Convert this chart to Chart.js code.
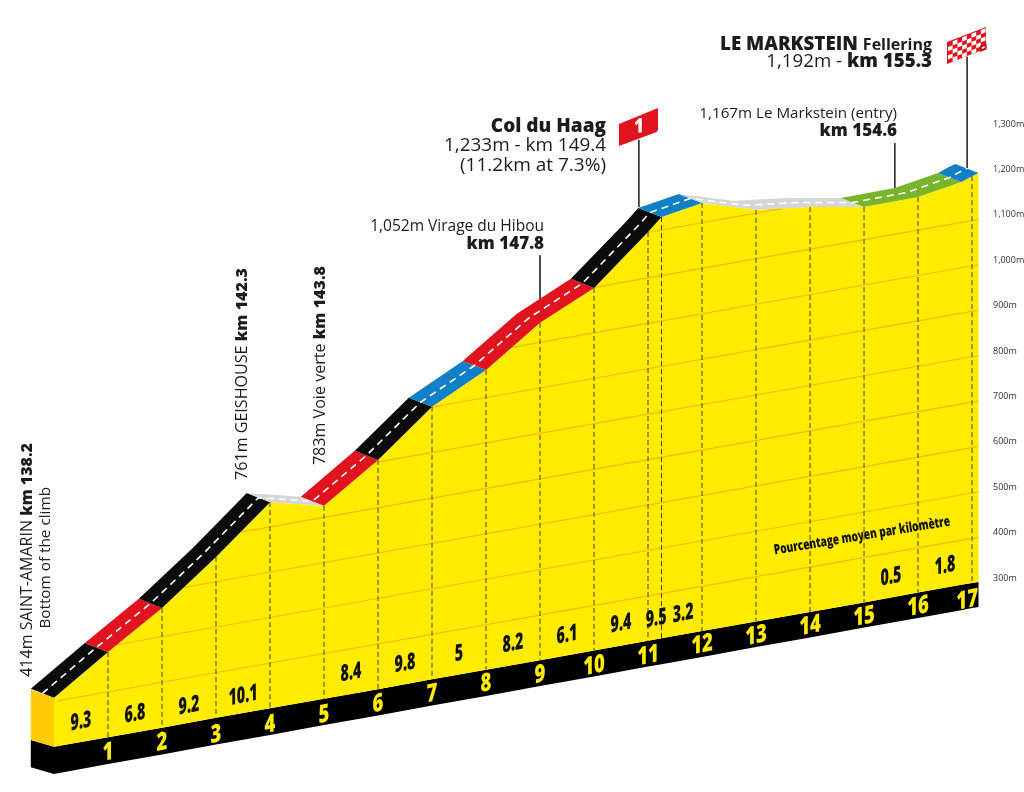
<!DOCTYPE html>
<html>
<head>
<meta charset="utf-8">
<title>Col du Haag - Le Markstein</title>
<script src="https://cdn.jsdelivr.net/npm/chart.js@4/dist/chart.umd.min.js"></script>
<style>
    html, body { margin: 0; padding: 0; background: #fff; overflow: hidden; }
    canvas { display: block; }
</style>
</head>
<body>
<canvas id="profileChart" width="1024" height="792"></canvas>
<script>
const kmMarks = [0, 1, 2, 3, 4, 5, 6, 7, 8, 9, 10, 11, 11.25, 12, 13, 14, 15, 16, 16.8, 17, 17.12];
const roadHeight = [36, 137, 234, 346, 467, 459, 560, 677, 758, 862, 939, 1062, 1095, 1126, 1111, 1117, 1117, 1139, 1172, 1185, 1192];
const floorTop = [-72, -51, -30, -8, 13, 34, 55, 77, 98, 119, 140, 162, 167, 183, 204, 225, 246, 268, 285, 289, 291];
const floorBottom = [-132, -110, -89, -67, -46, -24, -3, 19, 40, 62, 83, 105, 110, 126, 148, 169, 191, 212, 229, 234, 236];

const sectionStart = [0, 1, 2, 4, 5, 6, 7, 8, 10, 11.25, 12, 15, 16.8];
const sectionEnd = [1, 2, 4, 5, 6, 7, 8, 10, 11.25, 12, 15, 16.8, 17.12];
const sectionGrade = ['steep', 'hard', 'steep', 'flat', 'hard', 'steep', 'medium', 'hard', 'steep', 'medium', 'flat', 'easy', 'medium'];

const altitudeTicks = [300, 400, 500, 600, 700, 800, 900, 1000, 1100, 1200, 1300];
const gridStartKm = [0.05, 1.16, 2.4, 3.46, 5.94, 6.99, 8.48, 10.01, 10.99];
const gridEndKm = [17.12, 17.12, 17.12, 17.12, 17.12, 17.12, 17.12, 17.12, 13.49];
const gridStartHeight = [29, 153, 279, 401, 554, 676, 808, 940, 1061];
const gridEndHeight = [390, 490, 590, 690, 790, 890, 990, 1090, 1114];

const gradeKm = [0.5, 1.5, 2.5, 3.5, 5.5, 6.5, 7.5, 8.5, 9.5, 10.5, 11.15, 11.65, 15.5, 16.5];
const gradeHeight = [-17, 0, 18, 40, 91, 111, 133, 155, 174, 199, 210, 221, 302, 326];
const gradeLabels = ['9.3', '6.8', '9.2', '10.1', '8.4', '9.8', '5', '8.2', '6.1', '9.4', '9.5', '3.2', '0.5', '1.8'];

const kmLabelKm = [1, 2, 3, 4, 5, 6, 7, 8, 9, 10, 11, 12, 13, 14, 15, 16, 16.91];
const kmLabelHeight = [-85, -63, -46, -24, -2, 22, 44, 67, 86, 106, 128, 152, 172, 194, 214, 236, 250];
const kmLabels = ['1', '2', '3', '4', '5', '6', '7', '8', '9', '10', '11', '12', '13', '14', '15', '16', '17'];

const leaderKm = [9, 10.83, 15.57, 16.91];
const leaderTop = [1011, 1265, 1258, 1448];
const leaderBottom = [912, 1117, 1159, 1203];

const sideKm = [-0.43, 0];
const sideTop = [54, 36];
const sideMiddle = [-57, -72];
const sideBottom = [-117, -132];

const gradeColors = {
    steep: '#0b0b0b',
    hard: '#e0131f',
    medium: '#1280c6',
    easy: '#79b52c',
    flat: '#d6d6d6'
};

const roadDepthKm = 0.43;
const roadDepthHeight = 20;

const textFont = '"Open Sans"';
const textColor = '#1c1c1c';

function pairs(xs, ys) {
    return xs.map((x, i) => ({x: x, y: ys[i]}));
}

function shape(points, color, extra) {
    return Object.assign({
        data: points,
        showLine: true,
        fill: 'shape',
        backgroundColor: color,
        borderColor: color,
        borderWidth: 0,
        pointRadius: 0,
        tension: 0
    }, extra);
}

function line(points, color, width, dash) {
    return {
        data: points,
        showLine: true,
        fill: false,
        borderColor: color,
        borderWidth: width,
        borderDash: dash || [],
        pointRadius: 0,
        tension: 0
    };
}

// listed bottom layer first, reversed at the end since chart.js paints the first dataset last
const layers = [];

layers.push(shape(pairs(sideKm, sideBottom).concat(pairs(sideKm, sideMiddle).reverse()), '#000'));
layers.push(shape(pairs(sideKm, sideMiddle).concat(pairs(sideKm, sideTop).reverse()), '#ffcb05'));
layers.push(shape(pairs(kmMarks, floorBottom).concat(pairs(kmMarks, floorTop).reverse()), '#000'));
layers.push(shape(pairs(kmMarks, floorTop).concat(pairs(kmMarks, roadHeight).reverse()), '#ffec00'));

gridStartKm.forEach((km, i) => {
    layers.push(line([{x: km, y: gridStartHeight[i]}, {x: gridEndKm[i], y: gridEndHeight[i]}], '#f2b90c', 1.2));
});

kmMarks.forEach((km, i) => {
    if (km === 0 || km === 16.8 || km === 17.12) {
        return;
    }
    layers.push(line([{x: km, y: roadHeight[i]}, {x: km, y: floorTop[i]}], '#4a4420', 1, [5, 3]));
});

leaderKm.forEach((km, i) => {
    layers.push(line([{x: km, y: leaderTop[i]}, {x: km, y: leaderBottom[i]}], '#333', 1));
});

sectionStart.forEach((start, i) => {
    const from = kmMarks.indexOf(start);
    const to = kmMarks.indexOf(sectionEnd[i]);
    const front = pairs(kmMarks, roadHeight).slice(from, to + 1);
    const back = front.map(p => ({x: p.x - roadDepthKm, y: p.y + roadDepthHeight})).reverse();
    layers.push(shape(front.concat(back), gradeColors[sectionGrade[i]]));
});

layers.push(line(kmMarks.map((km, i) => ({x: km - roadDepthKm / 2, y: roadHeight[i] + roadDepthHeight / 2})), '#fff', 1.6, [7, 5]));

// flags and all the text go on top of the datasets
const labelsPlugin = {
    id: 'labels',
    afterDatasetsDraw(chart) {
        const ctx = chart.ctx;
        const xs = chart.scales.x;
        const ys = chart.scales.y;

        function squeezed(text, km, height, size, scaleX, skew, color) {
            ctx.save();
            ctx.translate(xs.getPixelForValue(km), ys.getPixelForValue(height));
            ctx.transform(scaleX, skew, 0, 1, 0, 0);
            ctx.font = '800 ' + size + 'px ' + textFont;
            ctx.fillStyle = color;
            ctx.textAlign = 'center';
            ctx.textBaseline = 'middle';
            ctx.fillText(text, 0, 0);
            ctx.restore();
        }

        gradeLabels.forEach((t, i) => squeezed(t, gradeKm[i], gradeHeight[i], 23, 0.62, -0.12, '#111'));
        kmLabels.forEach((t, i) => squeezed(t, kmLabelKm[i], kmLabelHeight[i], 25, 0.74, -0.15, '#ffec00'));

        // runs of normal and bold text, right aligned on x
        function rich(runs, x, y, size) {
            ctx.textAlign = 'left';
            ctx.textBaseline = 'alphabetic';
            let w = 0;
            runs.forEach(r => {
                ctx.font = (r.w || 400) + ' ' + (r.s || size) + 'px ' + textFont;
                w += ctx.measureText(r.t).width;
            });
            let cx = x - w;
            ctx.fillStyle = textColor;
            runs.forEach(r => {
                ctx.font = (r.w || 400) + ' ' + (r.s || size) + 'px ' + textFont;
                ctx.fillText(r.t, cx, y);
                cx += ctx.measureText(r.t).width;
            });
        }

        function riser(runs, x, y, size) {
            ctx.save();
            ctx.translate(x, y);
            ctx.rotate(-Math.PI / 2);
            rich(runs, 0, 0, size);
            ctx.restore();
        }

        rich([{t: 'LE MARKSTEIN ', w: 800, s: 18.8}, {t: 'Fellering', w: 700, s: 16}], 932, 50, 18.8);
        rich([{t: '1,192m - '}, {t: 'km 155.3', w: 800}], 932, 67, 18.7);

        rich([{t: 'Col du Haag', w: 800}], 606, 132, 19);
        rich([{t: '1,233m - km 149.4'}], 606, 151, 18.9);
        rich([{t: '(11.2km at 7.3%)'}], 606, 171, 19);

        rich([{t: '1,052m Virage du Hibou'}], 544, 231, 15.5);
        rich([{t: 'km 147.8', w: 800}], 544, 249, 17);

        rich([{t: '1,167m Le Markstein (entry)'}], 897, 118, 15.2);
        rich([{t: 'km 154.6', w: 800}], 897, 136, 17);

        riser([{t: '761m GEISHOUSE '}, {t: 'km 142.3', w: 800}], 247, 268, 16.1);
        riser([{t: '783m Voie verte '}, {t: 'km 143.8', w: 800}], 325, 266, 16.1);
        riser([{t: '414m SAINT-AMARIN '}, {t: 'km 138.2', w: 800}], 32, 443, 16);
        riser([{t: 'Bottom of the climb'}], 50, 487, 15.3);

        ctx.save();
        ctx.translate(862, 536);
        ctx.rotate(-0.164);
        ctx.scale(0.72, 1);
        ctx.font = '800 14px ' + textFont;
        ctx.fillStyle = '#111';
        ctx.textAlign = 'center';
        ctx.textBaseline = 'middle';
        ctx.fillText('Pourcentage moyen par kilomètre', 0, 0);
        ctx.restore();

        // climb flag
        ctx.fillStyle = '#e0131f';
        ctx.beginPath();
        ctx.moveTo(619, 124);
        ctx.lineTo(658, 108);
        ctx.lineTo(658, 129);
        ctx.quadraticCurveTo(658, 132, 654, 133);
        ctx.lineTo(619, 146);
        ctx.closePath();
        ctx.fill();
        ctx.save();
        ctx.translate(639, 127);
        ctx.transform(0.85, -0.1, 0, 1, 0, 0);
        ctx.font = '800 20px ' + textFont;
        ctx.fillStyle = '#fff';
        ctx.textAlign = 'center';
        ctx.textBaseline = 'middle';
        ctx.fillText('1', 0, 0);
        ctx.restore();

        // finish flag, checks follow the slant of the cloth
        ctx.save();
        ctx.beginPath();
        ctx.moveTo(947, 42);
        ctx.lineTo(986, 27);
        ctx.lineTo(986, 46);
        ctx.quadraticCurveTo(986, 49, 982, 50);
        ctx.lineTo(947, 64);
        ctx.closePath();
        ctx.fillStyle = '#e0131f';
        ctx.fill();
        ctx.save();
        ctx.clip();
        ctx.fillStyle = '#fff';
        const cols = 8;
        const rows = 5;
        for (let c = 0; c < cols; c++) {
            for (let r = 0; r < rows; r++) {
                if ((c + r) % 2 === 0) {
                    continue;
                }
                const cx = 948 + c * 4.7;
                const cy = 43 - c * 1.85 + r * 4.1;
                ctx.beginPath();
                ctx.moveTo(cx, cy);
                ctx.lineTo(cx + 4.7, cy - 1.85);
                ctx.lineTo(cx + 4.7, cy + 2.25);
                ctx.lineTo(cx, cy + 4.1);
                ctx.closePath();
                ctx.fill();
            }
        }
        ctx.restore();
        ctx.strokeStyle = '#c0121c';
        ctx.lineWidth = 2;
        ctx.stroke();
        ctx.restore();
    }
};

new Chart(document.getElementById('profileChart'), {
    type: 'scatter',
    data: {
        datasets: layers.reverse()
    },
    plugins: [labelsPlugin],
    options: {
        responsive: false,
        animation: false,
        layout: {
            padding: 0
        },
        plugins: {
            legend: {
                display: false
            },
            tooltip: {
                enabled: false
            }
        },
        scales: {
            x: {
                type: 'linear',
                display: false,
                min: -1,
                max: 17.24
            },
            y: {
                type: 'linear',
                position: 'right',
                min: -171.4,
                max: 1573.1,
                afterBuildTicks(scale) {
                    scale.ticks = altitudeTicks.map(v => ({value: v}));
                },
                afterFit(scale) {
                    scale.width = 39;
                    scale.paddingTop = 0;
                    scale.paddingBottom = 0;
                },
                grid: {
                    display: false,
                    drawTicks: false
                },
                border: {
                    display: false
                },
                ticks: {
                    padding: 8,
                    autoSkip: false,
                    color: '#333',
                    crossAlign: 'near',
                    font: {
                        family: textFont,
                        size: 9
                    },
                    callback: function (value) {
                        return value.toLocaleString('en-US') + 'm';
                    }
                }
            }
        }
    }
});
</script>
</body>
</html>
